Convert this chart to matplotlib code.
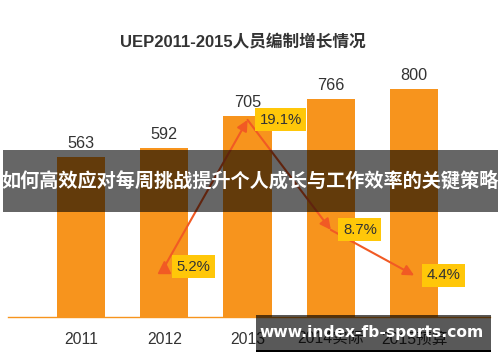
import numpy as np
import matplotlib
matplotlib.use("Agg")
import matplotlib.pyplot as plt
from matplotlib.patches import Rectangle

# data
years = ["2011", "2012", "2013", "2014实际", "2015预算"]
staff = [563, 592, 705, 766, 800]
growth_years = [1, 2, 3, 4]
growth = [5.2, 19.1, 8.7, 4.4]

title = "UEP2011-2015人员编制增长情况"
banner = "如何高效应对每周挑战提升个人成长与工作效率的关键策略"
watermark = "www.index-fb-sports.com"

fonts = ["Liberation Sans", "Noto Sans CJK SC", "DejaVu Sans"]
plt.rcParams["font.family"] = fonts

bar_color = "#f7941d"
line_color = "#f15a24"
box_color = "#ffc709"
text_color = "#333333"

fig = plt.figure(figsize=(5, 3.62), dpi=100)
ax = fig.add_axes([8 / 500, 45 / 362, 482 / 500, 257 / 362])

x = np.arange(len(years))
ax.bar(x, staff, width=0.58, color=bar_color, zorder=2)
for xi, v in zip(x, staff):
    ax.annotate(str(v), (xi, v), xytext=(0, 6), textcoords="offset pixels",
                ha="center", va="bottom", fontsize=11.7, color=text_color)

ax.set_xlim(-0.876, 4.91)
ax.set_ylim(0, 902)
ax.set_xticks(x)
ax.set_xticklabels(years, fontsize=11.3, color=text_color)
ax.tick_params(axis="x", length=0, pad=11)
ax.set_yticks([])
for s in ["top", "left", "right"]:
    ax.spines[s].set_visible(False)
ax.spines["bottom"].set_color(bar_color)
ax.spines["bottom"].set_linewidth(1)

# growth line on second axis
ax2 = ax.twinx()
ax2.set_ylim(0.47, 24.76)
ax2.set_yticks([])
for s in ax2.spines.values():
    s.set_visible(False)

ax2.plot(growth_years[0], growth[0], marker="^", color=line_color, markersize=9, zorder=4)
for i in range(len(growth) - 1):
    ax2.annotate("", xy=(growth_years[i + 1], growth[i + 1]),
                 xytext=(growth_years[i], growth[i]),
                 arrowprops=dict(arrowstyle="-|>", color=line_color, lw=1.5,
                                 mutation_scale=16, shrinkA=0, shrinkB=0))
for gx, g in zip(growth_years, growth):
    ax2.annotate(f"{g}%", (gx, g), xytext=(12, 0), textcoords="offset pixels",
                 ha="left", va="center", fontsize=10.7, color=text_color,
                 bbox=dict(boxstyle="square,pad=0.3", fc=box_color, ec="none"))

fig.text(0.486, (362 - 42) / 362, title, ha="center", va="center",
         fontsize=12, fontweight="bold", color=text_color)

# overlay banner
fig.patches.append(Rectangle((3 / 500, 150 / 362), 495 / 500, 62 / 362,
                             transform=fig.transFigure, fc="black", alpha=0.6, zorder=5))
fig.text(0.5, (362 - 181) / 362, banner, ha="center", va="center",
         fontsize=13.8, fontweight="bold", color="white", zorder=6,
         family=["Noto Sans CJK SC", "DejaVu Sans"])

# watermark
fig.patches.append(Rectangle((256 / 500, 11 / 362), 235 / 500, 36 / 362,
                             transform=fig.transFigure, fc="black", alpha=0.65, zorder=5))
fig.patches.append(Rectangle((256 / 500, 10 / 362), 235 / 500, 2 / 362,
                             transform=fig.transFigure, fc="black", zorder=5))
fig.text(372 / 500, (362 - 332) / 362, watermark, ha="center", va="center",
         fontsize=11.2, fontweight="bold", color="white", zorder=6,
         family=["DejaVu Sans"])

fig.savefig("out.png", dpi=100)
